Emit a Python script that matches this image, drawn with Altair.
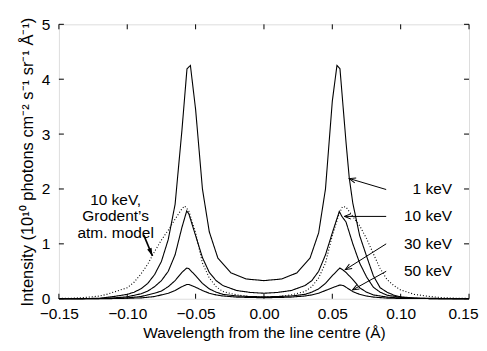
import altair as alt
import pandas as pd
import numpy as np

# ---- data ----
x_1kev = [-0.15, -0.13, -0.12, -0.11, -0.10, -0.095, -0.09, -0.085, -0.08, -0.075, -0.07, -0.065, -0.06, -0.0563, -0.0538,
          -0.05, -0.045, -0.04, -0.0337, -0.024, -0.013, 0.0,
          0.013, 0.024, 0.0337, 0.04, 0.045, 0.05, 0.0534, 0.0556, 0.06, 0.0624, 0.065, 0.07, 0.075, 0.08, 0.085,
          0.09, 0.095, 0.10, 0.11, 0.12, 0.15]
y_1kev = [0.0, 0.003, 0.01, 0.04, 0.08, 0.12, 0.18, 0.28, 0.44, 0.68, 1.08, 1.72, 3.07, 4.19, 4.25,
          3.45, 2.0, 1.22, 0.74, 0.47, 0.36, 0.33,
          0.36, 0.47, 0.74, 1.2, 2.0, 3.6, 4.25, 4.19, 2.86, 2.2, 1.74, 1.15, 0.78, 0.42, 0.2,
          0.12, 0.065, 0.035, 0.012, 0.004, 0.0]

x_10kev = [-0.15, -0.12, -0.11, -0.10, -0.09, -0.085, -0.08, -0.075, -0.07, -0.065, -0.06, -0.0565, -0.055, -0.05, -0.045,
           -0.04, -0.035, -0.03, -0.02, -0.01, 0.0, 0.01, 0.02, 0.03, 0.035, 0.04, 0.045, 0.05, 0.0551, 0.057, 0.06,
           0.065, 0.07, 0.075, 0.08, 0.085, 0.09, 0.10, 0.11, 0.15]
y_10kev = [0.0, 0.005, 0.015, 0.035, 0.09, 0.14, 0.22, 0.33, 0.5, 0.8, 1.3, 1.6, 1.55, 1.15, 0.75,
           0.48, 0.33, 0.24, 0.15, 0.115, 0.1, 0.115, 0.15, 0.24, 0.33, 0.5, 0.8, 1.2, 1.59, 1.5, 1.4,
           1.0, 0.65, 0.4, 0.21, 0.12, 0.065, 0.025, 0.01, 0.0]

x_30kev = [-0.15, -0.12, -0.10, -0.09, -0.085, -0.08, -0.075, -0.07, -0.065, -0.06, -0.0565, -0.055, -0.05, -0.045, -0.04,
           -0.035, -0.03, -0.02, -0.01, 0.0, 0.01, 0.02, 0.03, 0.035, 0.04, 0.045, 0.05, 0.0555, 0.058, 0.06, 0.065,
           0.07, 0.075, 0.08, 0.09, 0.10, 0.12, 0.15]
y_30kev = [0.0, 0.003, 0.015, 0.04, 0.07, 0.1, 0.14, 0.22, 0.33, 0.48, 0.56, 0.55, 0.42, 0.28, 0.18,
           0.12, 0.08, 0.05, 0.04, 0.035, 0.04, 0.05, 0.08, 0.12, 0.18, 0.28, 0.42, 0.56, 0.52, 0.48, 0.35,
           0.2, 0.12, 0.07, 0.03, 0.012, 0.003, 0.0]

x_50kev = [-0.15, -0.11, -0.09, -0.08, -0.075, -0.07, -0.065, -0.06, -0.0565, -0.055, -0.05, -0.045, -0.04, -0.035,
           -0.03, -0.02, -0.01, 0.0, 0.01, 0.02, 0.03, 0.035, 0.04, 0.045, 0.05, 0.0555, 0.058, 0.06, 0.065, 0.07,
           0.075, 0.08, 0.09, 0.10, 0.15]
y_50kev = [0.0, 0.003, 0.015, 0.04, 0.07, 0.1, 0.15, 0.22, 0.26, 0.26, 0.21, 0.15, 0.1, 0.07,
           0.05, 0.03, 0.022, 0.02, 0.022, 0.03, 0.05, 0.07, 0.1, 0.15, 0.2, 0.25, 0.24, 0.21, 0.13, 0.08,
           0.05, 0.03, 0.012, 0.005, 0.0]

x_grodent = [-0.15, -0.14, -0.13, -0.12, -0.115, -0.11, -0.10, -0.095, -0.09, -0.085, -0.08, -0.075, -0.07, -0.065,
             -0.06, -0.058, -0.055, -0.05, -0.045, -0.04, -0.035, -0.03, -0.02, -0.01, 0.0, 0.01, 0.02, 0.03, 0.035,
             0.04, 0.045, 0.05, 0.055, 0.0575, 0.06, 0.065, 0.07, 0.075, 0.08, 0.085, 0.09, 0.095, 0.10, 0.11, 0.12,
             0.13, 0.14, 0.15]
y_grodent = [0.005, 0.01, 0.025, 0.05, 0.08, 0.12, 0.2, 0.3, 0.45, 0.63, 0.86, 1.07, 1.25, 1.45,
             1.64, 1.69, 1.6, 1.2, 0.65, 0.38, 0.22, 0.13, 0.07, 0.04, 0.03, 0.04, 0.07, 0.13, 0.22,
             0.38, 0.65, 1.15, 1.55, 1.68, 1.67, 1.5, 1.33, 1.1, 0.82, 0.55, 0.35, 0.24, 0.16, 0.08, 0.045,
             0.02, 0.01, 0.005]

x_ticks = [-0.15, -0.10, -0.05, 0.0, 0.05, 0.10, 0.15]
y_ticks = [0, 1, 2, 3, 4, 5]

label_texts = ["1 keV", "10 keV", "30 keV", "50 keV"]
label_x = [0.1376, 0.1376, 0.1376, 0.1376]
label_y = [2.0, 1.5, 1.0, 0.5]
arrow_tail_x = [0.0894, 0.0894, 0.0894, 0.0894]
arrow_tail_y = [1.99, 1.5, 1.0, 0.5]
arrow_tip_x = [0.0624, 0.0588, 0.0595, 0.0648]
arrow_tip_y = [2.19, 1.5, 0.53, 0.16]

note_lines = ["10 keV,", "Grodent\u2019s", "atm. model"]
note_x = [-0.1085, -0.1085, -0.1085]
note_y = [1.8, 1.5, 1.19]
note_arrow_tail = (-0.0879, 1.16)
note_arrow_tip = (-0.0816, 0.78)

# ---- layout ----
W, H = 411, 275
XD = [-0.15, 0.15]
YD = [0, 5]
SX = W / (XD[1] - XD[0])
SY = H / (YD[1] - YD[0])
FONT = "Liberation Sans"
FS = 15.5

series = [
    ("1 keV", x_1kev, y_1kev, "solid"),
    ("10 keV", x_10kev, y_10kev, "solid"),
    ("30 keV", x_30kev, y_30kev, "solid"),
    ("50 keV", x_50kev, y_50kev, "solid"),
    ("10 keV Grodent", x_grodent, y_grodent, "dotted"),
]
rows = []
for name, xs, ys, dash in series:
    for xv, yv in zip(xs, ys):
        rows.append({"series": name, "x": xv, "y": yv, "dash": dash})
df = pd.DataFrame(rows)

xscale = alt.Scale(domain=XD, nice=False, zero=False)
yscale = alt.Scale(domain=YD, nice=False, zero=False)

last_label_test = "datum.value >= 0.149"

lines = alt.Chart(df).mark_line(color="black", strokeWidth=1.1).encode(
    x=alt.X("x:Q", scale=xscale,
            axis=alt.Axis(title="Wavelength from the line centre (\u00c5)", values=x_ticks, format=".2f",
                          grid=False, ticks=False, tickSize=0, domain=False, labelPadding=8,
                          labelFlush=False, labelOverlap=False,
                          labelAlign={"condition": {"test": last_label_test, "value": "right"}, "value": "center"},
                          labelOffset={"condition": {"test": last_label_test, "value": 9}, "value": 0},
                          labelFontSize=FS, titleFontSize=FS, titleFontWeight="normal", titlePadding=3,
                          labelColor="black", titleColor="black", labelFont=FONT, titleFont=FONT)),
    y=alt.Y("y:Q", scale=yscale,
            axis=alt.Axis(title="Intensity (10\u00b9\u2070 photons cm\u207b\u00b2 s\u207b\u00b9 sr\u207b\u00b9 \u00c5\u207b\u00b9)",
                          values=y_ticks, format="d",
                          grid=False, ticks=False, tickSize=0, domain=False, labelPadding=9,
                          labelFlush=False, labelOverlap=False,
                          labelFontSize=FS, titleFontSize=16.5, titleFontWeight="normal", titlePadding=6,
                          labelColor="black", titleColor="black", labelFont=FONT, titleFont=FONT)),
    detail="series:N",
    strokeDash=alt.StrokeDash("dash:N", scale=alt.Scale(domain=["solid", "dotted"], range=[[1, 0], [1, 2]]),
                              legend=None),
)

# inward ticks on all four sides
xt = pd.DataFrame({"t": x_ticks})
yt = pd.DataFrame({"t": y_ticks})
tick_bottom = alt.Chart(xt).mark_rule(color="black", strokeWidth=1).encode(
    x=alt.X("t:Q", scale=xscale), y=alt.value(H), y2=alt.value(H - 5))
tick_top = alt.Chart(xt).mark_rule(color="black", strokeWidth=1).encode(
    x=alt.X("t:Q", scale=xscale), y=alt.value(0), y2=alt.value(5))
tick_left = alt.Chart(yt).mark_rule(color="black", strokeWidth=1).encode(
    y=alt.Y("t:Q", scale=yscale), x=alt.value(0), x2=alt.value(5))
tick_right = alt.Chart(yt).mark_rule(color="black", strokeWidth=1).encode(
    y=alt.Y("t:Q", scale=yscale), x=alt.value(W), x2=alt.value(W - 5))


def angles(tx, ty, hx, hy):
    dx = (np.array(hx) - np.array(tx)) * SX
    dy = -(np.array(hy) - np.array(ty)) * SY
    return list(np.degrees(np.arctan2(dy, dx)) % 360)


arr = pd.DataFrame({"x": arrow_tail_x, "y": arrow_tail_y, "x2": arrow_tip_x, "y2": arrow_tip_y,
                    "ang": angles(arrow_tail_x, arrow_tail_y, arrow_tip_x, arrow_tip_y)})
arrow_lines = alt.Chart(arr).mark_rule(color="black", strokeWidth=1).encode(
    x=alt.X("x:Q", scale=xscale), y=alt.Y("y:Q", scale=yscale), x2="x2:Q", y2="y2:Q")
arrow_heads = alt.Chart(arr).mark_point(shape="M-2,-0.8L0,0L-2,0.8", size=42, filled=False,
                                        stroke="black", strokeWidth=1, opacity=1).encode(
    x=alt.X("x2:Q", scale=xscale), y=alt.Y("y2:Q", scale=yscale), angle=alt.Angle("ang:Q", scale=None))

labels = alt.Chart(pd.DataFrame({"x": label_x, "y": label_y, "t": label_texts})).mark_text(
    align="right", baseline="middle", font=FONT, fontSize=FS, color="black").encode(
    x=alt.X("x:Q", scale=xscale), y=alt.Y("y:Q", scale=yscale), text="t:N")

notes = alt.Chart(pd.DataFrame({"x": note_x, "y": note_y, "t": note_lines})).mark_text(
    align="center", baseline="middle", font=FONT, fontSize=FS, color="black").encode(
    x=alt.X("x:Q", scale=xscale), y=alt.Y("y:Q", scale=yscale), text="t:N")

na = pd.DataFrame({"x": [note_arrow_tail[0]], "y": [note_arrow_tail[1]],
                   "x2": [note_arrow_tip[0]], "y2": [note_arrow_tip[1]],
                   "ang": angles([note_arrow_tail[0]], [note_arrow_tail[1]],
                                 [note_arrow_tip[0]], [note_arrow_tip[1]])})
note_arrow = alt.Chart(na).mark_rule(color="black", strokeWidth=1.6).encode(
    x=alt.X("x:Q", scale=xscale), y=alt.Y("y:Q", scale=yscale), x2="x2:Q", y2="y2:Q")
note_head = alt.Chart(na).mark_point(shape="M0,0L-2,-0.6L-2,0.6Z", size=64, filled=True,
                                     color="black", opacity=1).encode(
    x=alt.X("x2:Q", scale=xscale), y=alt.Y("y2:Q", scale=yscale), angle=alt.Angle("ang:Q", scale=None))

chart = alt.layer(
    lines, tick_bottom, tick_top, tick_left, tick_right,
    arrow_lines, arrow_heads, labels, notes, note_arrow, note_head
).properties(
    width=W, height=H,
    autosize=alt.AutoSizeParams(type="none"),
    padding={"left": 51, "top": 16, "right": 10, "bottom": 44},
).configure_view(stroke="black", strokeWidth=1.2).configure(background="white")

chart.save("out.html", embed_options={"renderer": "svg", "actions": False})
